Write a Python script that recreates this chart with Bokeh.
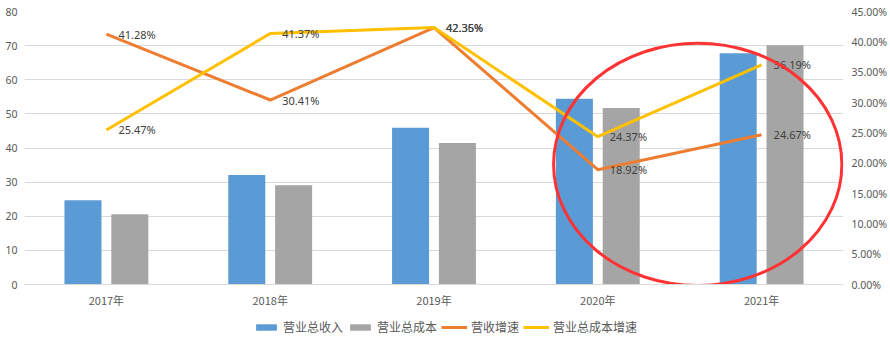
from bokeh.plotting import figure
from bokeh.layouts import column
from bokeh.models import (ColumnDataSource, FactorRange, Range1d, LinearAxis, FixedTicker,
                          NumeralTickFormatter, Legend, LegendItem)
from bokeh.transform import dodge
from bokeh.core.properties import value
from bokeh.embed import file_html
from bokeh.resources import INLINE

years = ["2017年", "2018年", "2019年", "2020年", "2021年"]
revenue = [24.7, 32.1, 45.9, 54.4, 67.8]
cost = [20.6, 29.1, 41.5, 51.7, 70.1]
rev_growth = [0.4128, 0.3041, 0.4236, 0.1892, 0.2467]
cost_growth = [0.2547, 0.4137, 0.4235, 0.2437, 0.3619]
left_ticks = [0, 10, 20, 30, 40, 50, 60, 70, 80]
right_ticks = [0.0, 0.05, 0.10, 0.15, 0.20, 0.25, 0.30, 0.35, 0.40, 0.45]
series_names = ["营业总收入", "营业总成本", "营收增速", "营业总成本增速"]

FONT = "Noto Sans CJK SC"
NUMFONT = "Noto Sans"
BLUE = "#5B9BD5"
GRAY = "#A5A5A5"
ORANGE = "#ED7D31"
YELLOW = "#FFC000"

src = ColumnDataSource(dict(
    year=years, revenue=revenue, cost=cost,
    rg=rev_growth, cg=cost_growth,
    rg_lbl=[f"{v*100:.2f}%" for v in rev_growth],
    cg_lbl=[f"{v*100:.2f}%" for v in cost_growth],
))

p = figure(width=890, height=310, output_backend="svg", toolbar_location=None,
           x_range=FactorRange(*years, range_padding=0),
           y_range=Range1d(0, 80),
           min_border_left=24, min_border_right=47, min_border_top=11, min_border_bottom=26)
p.extra_y_ranges = {"pct": Range1d(0, 0.45)}
p.outline_line_color = None
p.background_fill_color = "white"
p.border_fill_color = "white"

p.vbar(x=dodge("year", -0.143, range=p.x_range), top="revenue", width=0.226,
       source=src, fill_color=BLUE, line_color=None)
p.vbar(x=dodge("year", 0.143, range=p.x_range), top="cost", width=0.226,
       source=src, fill_color=GRAY, line_color=None)

p.line(x="year", y="rg", source=src, y_range_name="pct", line_color=ORANGE, line_width=3)
p.line(x="year", y="cg", source=src, y_range_name="pct", line_color=YELLOW, line_width=3)

for col in ["rg", "cg"]:
    p.text(x="year", y=col, text=col + "_lbl", source=src, y_range_name="pct",
           x_offset=12, text_baseline="middle", text_align="left",
           text_font=value(NUMFONT), text_font_size="11px", text_color="#404040")

# red annotation ellipse (highlighting 2020-2021)
p.ellipse(x=4.11, y=35.2, width=1.76, height=71, fill_color=None,
          line_color="#FF3333", line_width=3)

# axes
p.yaxis.ticker = FixedTicker(ticks=left_ticks)
p.yaxis.axis_line_color = None
p.yaxis.major_tick_line_color = None
p.yaxis.minor_tick_line_color = None
p.yaxis.major_tick_out = 0
p.yaxis.major_tick_in = 0
p.yaxis.major_label_standoff = 7
p.yaxis.major_label_text_font = NUMFONT
p.yaxis.major_label_text_font_size = "10.5px"
p.yaxis.major_label_text_color = "#595959"

ra = LinearAxis(y_range_name="pct", ticker=FixedTicker(ticks=right_ticks),
                formatter=NumeralTickFormatter(format="0.00%"))
ra.axis_line_color = None
ra.major_tick_line_color = None
ra.minor_tick_line_color = None
ra.major_tick_out = 0
ra.major_tick_in = 0
ra.major_label_standoff = 8
ra.major_label_text_font = NUMFONT
ra.major_label_text_font_size = "10.5px"
ra.major_label_text_color = "#595959"
p.add_layout(ra, "right")

p.xaxis.axis_line_color = "#D9D9D9"
p.xaxis.major_tick_line_color = None
p.xaxis.minor_tick_line_color = None
p.xaxis.major_tick_out = 0
p.xaxis.major_tick_in = 0
p.xaxis.major_label_standoff = 7
p.xaxis.major_label_text_font = FONT
p.xaxis.major_label_text_font_size = "11px"
p.xaxis.major_label_text_color = "#595959"

p.xgrid.grid_line_color = None
p.ygrid.grid_line_color = "#D9D9D9"
p.ygrid.ticker = FixedTicker(ticks=left_ticks)

# legend strip below the chart (proxy renderers placed outside the visible range)
lg = figure(width=890, height=28, output_backend="svg", toolbar_location=None,
            x_range=Range1d(0, 1), y_range=Range1d(0, 1),
            x_axis_location=None, y_axis_location=None,
            min_border=0, outline_line_color=None)
lg.grid.visible = False
r1 = lg.vbar(x=[-5], top=[-5], width=0.1, fill_color=BLUE, line_color=None)
r2 = lg.vbar(x=[-5], top=[-5], width=0.1, fill_color=GRAY, line_color=None)
r3 = lg.line(x=[-5, -4], y=[-5, -5], line_color=ORANGE, line_width=3)
r4 = lg.line(x=[-5, -4], y=[-5, -5], line_color=YELLOW, line_width=3)
legend = Legend(items=[LegendItem(label=n, renderers=[r]) for n, r in zip(series_names, [r1, r2, r3, r4])],
                orientation="horizontal", location=(229, 3),
                label_text_font=FONT, label_text_font_size="12px", label_text_color="#595959",
                glyph_width=26, glyph_height=8, label_standoff=4, spacing=4,
                border_line_color=None, background_fill_alpha=0, padding=2, margin=0)
lg.add_layout(legend)

open("out.html", "w").write(file_html(column(p, lg, spacing=0), INLINE))
